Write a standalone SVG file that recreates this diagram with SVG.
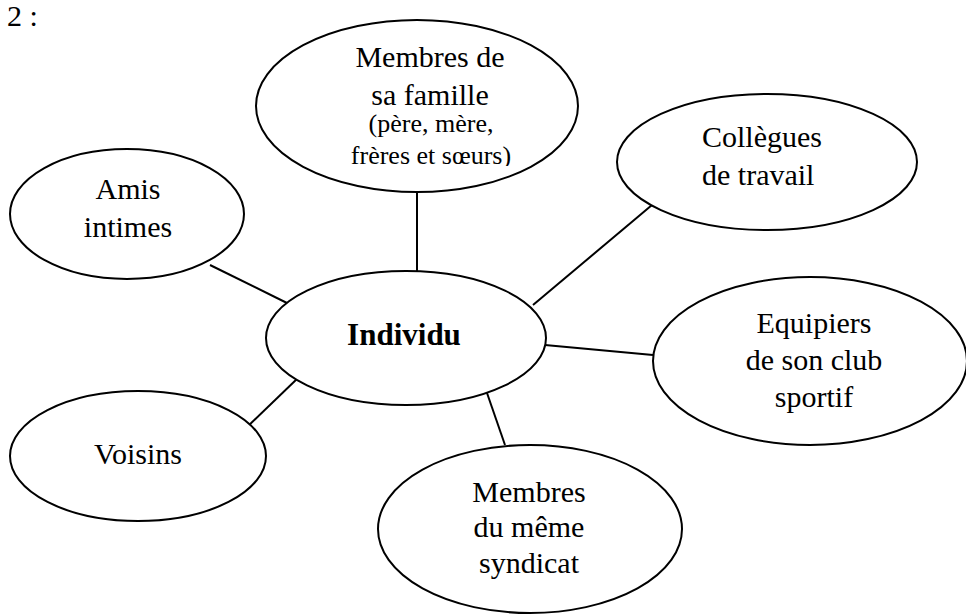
<svg xmlns="http://www.w3.org/2000/svg" width="966" height="614" viewBox="0 0 966 614">
<style>
.n{fill:#fff;stroke:#000;stroke-width:2}
text{font-family:'Liberation Serif','Times New Roman',Tinos,'DejaVu Serif',serif;font-size:30px;fill:#000}
.c{text-anchor:middle}
.s{font-size:26px}
.b{font-weight:bold;font-size:31px}
#edges line{stroke:#000;stroke-width:2}
</style>
<defs>
<clipPath id="clipF"><rect x="250" y="0" width="340" height="166"/></clipPath>
</defs>
<rect width="966" height="614" fill="#fff"/>
<text x="7" y="26" font-family="Liberation Serif, serif">2 :</text>
<g id="edges">
<line x1="417" y1="192" x2="417" y2="271"/>
<line x1="210" y1="265" x2="289" y2="304"/>
<line x1="652" y1="205" x2="533" y2="305"/>
<line x1="545" y1="345" x2="653" y2="355"/>
<line x1="299" y1="377" x2="245" y2="429"/>
<line x1="487" y1="393" x2="505" y2="445"/>
</g>
<g font-family="Liberation Serif, serif">
<g id="famille">
<ellipse class="n" cx="417" cy="106" rx="161" ry="86"/>
<text class="c" x="430" y="67">Membres de</text>
<text class="c" x="430" y="105">sa famille</text>
<g clip-path="url(#clipF)">
<text class="c s" x="431" y="132">(père, mère,</text>
<text class="c s" x="431" y="164">frères et sœurs)</text>
</g>
</g>
<g id="collegues">
<ellipse class="n" cx="767" cy="162" rx="150" ry="68"/>
<text x="702" y="147">Collègues</text>
<text x="702" y="185">de travail</text>
</g>
<g id="amis">
<ellipse class="n" cx="127" cy="214" rx="117" ry="65"/>
<text class="c" x="128" y="199">Amis</text>
<text class="c" x="128" y="237">intimes</text>
</g>
<g id="individu">
<ellipse class="n" cx="406" cy="338" rx="140" ry="67"/>
<text class="c b" x="404" y="345">Individu</text>
</g>
<g id="equipiers">
<ellipse class="n" cx="810" cy="361" rx="157" ry="84"/>
<text class="c" x="814" y="333">Equipiers</text>
<text class="c" x="814" y="370">de son club</text>
<text class="c" x="814" y="407">sportif</text>
</g>
<g id="voisins">
<ellipse class="n" cx="138" cy="456" rx="128" ry="65"/>
<text class="c" x="138" y="464">Voisins</text>
</g>
<g id="syndicat">
<ellipse class="n" cx="530" cy="529" rx="152" ry="84"/>
<text class="c" x="529" y="502">Membres</text>
<text class="c" x="529" y="537">du même</text>
<text class="c" x="529" y="573">syndicat</text>
</g>
</g>
</svg>
